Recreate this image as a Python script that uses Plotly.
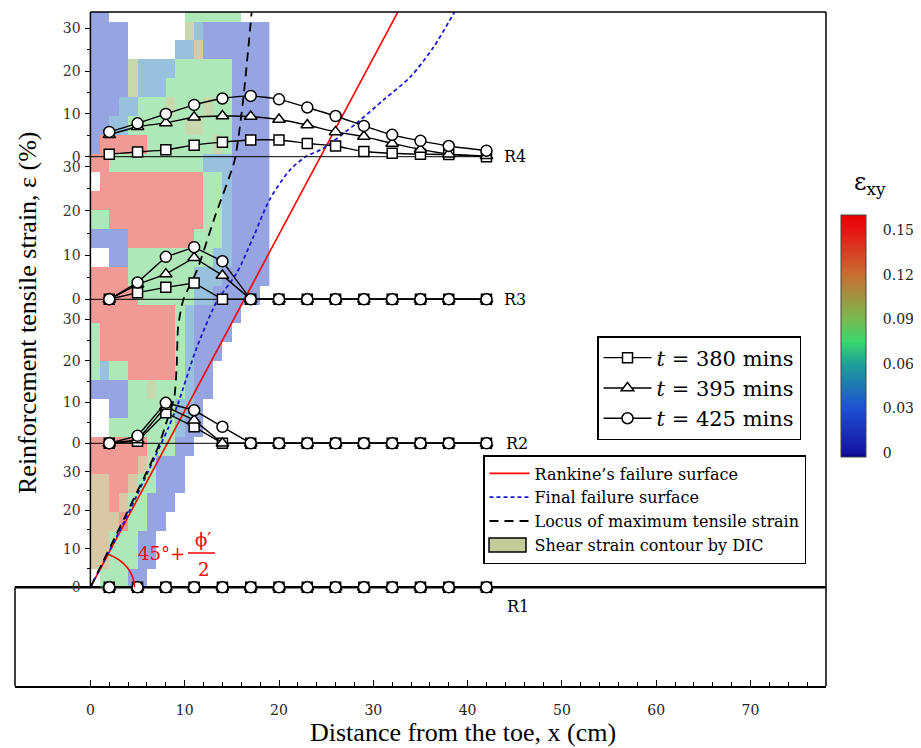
import numpy as np
import plotly.graph_objects as go

# ---------------- data ----------------
x_cm = [2, 5, 8, 11, 14, 17, 20, 23, 26, 29, 32, 35, 38, 42]

r1_380 = [0, 0, 0, 0, 0, 0, 0, 0, 0, 0, 0, 0, 0, 0]
r1_395 = [0, 0, 0, 0, 0, 0, 0, 0, 0, 0, 0, 0, 0, 0]
r1_425 = [0, 0, 0, 0, 0, 0, 0, 0, 0, 0, 0, 0, 0, 0]

r2_380 = [0, 0.5, 7.4, 4.0, 0, 0, 0, 0, 0, 0, 0, 0, 0, 0]
r2_395 = [0, 0.8, 8.9, 5.6, 0, 0, 0, 0, 0, 0, 0, 0, 0, 0]
r2_425 = [0, 1.8, 9.8, 8.0, 4.0, 0, 0, 0, 0, 0, 0, 0, 0, 0]

r3_380 = [0, 1.5, 2.7, 3.7, 0, 0, 0, 0, 0, 0, 0, 0, 0, 0]
r3_395 = [0, 3.4, 5.7, 9.4, 5.4, 0, 0, 0, 0, 0, 0, 0, 0, 0]
r3_425 = [0, 3.8, 9.6, 11.8, 8.6, 0, 0, 0, 0, 0, 0, 0, 0, 0]

r4_380 = [0.6, 1.1, 1.6, 2.7, 3.4, 3.9, 3.9, 3.1, 2.5, 1.2, 0.8, 0.6, 0.5, 0.0]
r4_395 = [5.1, 7.0, 7.9, 9.2, 9.5, 9.4, 8.7, 7.4, 5.8, 4.7, 3.1, 1.7, 0.6, 0.2]
r4_425 = [5.8, 7.8, 10.0, 12.1, 13.6, 14.2, 13.4, 11.5, 9.5, 7.2, 5.1, 3.7, 2.5, 1.4]

series_names = ["<i>t</i> = 380 mins", "<i>t</i> = 395 mins", "<i>t</i> = 425 mins"]
panel_labels = ["R1", "R2", "R3", "R4"]

# failure surfaces (distance from toe x [cm], height [cm])
rankine_x = [0, 32.6]
rankine_y = [0, 61.0]
final_x = [0, 3.7, 7.4, 8.3, 9.3, 11.2, 13.4, 15.5, 17.3, 19.0, 21.2, 22.9, 24.6, 28.2, 31.1, 33.9, 36.4, 38.6]
final_y = [0, 7.2, 15.0, 17.0, 19.5, 25.2, 30.3, 33.3, 37.2, 41.1, 44.3, 45.7, 46.5, 49.2, 51.7, 54.1, 57.3, 61.0]
locus_x = [0, 7.2, 7.9, 8.9, 9.15, 9.3, 9.85, 11.3, 13.2, 15.3, 16.2, 17.1]
locus_y = [0, 14.9, 17.0, 20.2, 23.4, 27.6, 30.5, 33.6, 39.3, 45.3, 51.7, 61.0]

# DIC shear strain contour, 1 cm (x) by 2 cm (height) cells, top row first
dic_levels = {"B": 0.02, "C": 0.045, "G": 0.08, "Y": 0.095, "T": 0.11, "R": 0.145}
dic_rows = [
    "BB        GGGGGG   ",
    "BBBB      YCBBBBBBB",
    "BBBB     CCTBBBBBBB",
    "BBBBYCCCCGGGGGGBBBB",
    "BBBBYCCCGGGGGGGBBBB",
    "BBBCCGGGYGGGYGGBBBB",
    "BBCCGGGGGGYYGGGBBBB",
    "BRRRRRGGGGGGGYGBBBB",
    "RRGGGGGGGGGGCCCBBBB",
    " RRRRRRRRRRRGGCBBBB",
    "RRRRRRRRRRRRGGCBBBB",
    "GGRRRRRRRRRRGGCBBBB",
    "BBBBRRRRRRRGGGCBBBB",
    "  BBGGGGGGGGGCCBBBB",
    "RRRRGGGGGGGCCCBBBBB",
    "RRRRRGGGGGGCCBBBBB ",
    "RRRRRRRRRGCBBBBB   ",
    "GRRRRRRRRGCBBBB    ",
    "GRRRRRRRRGCBBB     ",
    "GCGGRRRRRGCBB      ",
    "BBBBGGYGGGCBB      ",
    "  BBGGGGGCCB       ",
    "  GGGGGGGCBB       ",
    "RRRRRRGGGBB        ",
    "RRRRRTGBBB         ",
    "TTRRTGGBBB         ",
    "TTRTGGBBB          ",
    "TTTRGGBB           ",
    "TTGGGBB            ",
    "TTGGGBB            ",
    " GGGBB             ",
]
dic_x = [0.5 + i for i in range(19)]
dic_y = [61 - 2 * j for j in range(len(dic_rows))]
dic_z = [[dic_levels.get(ch, np.nan) for ch in row] for row in dic_rows]

cbar_vals = [0, 0.03, 0.06, 0.09, 0.12, 0.15]

# ---------------- layout helpers (pixel placement, screenshot coords) ----------------
OFF = 8                      # page body margin
W, H = 921 - OFF, 748 - OFF  # figure size
L, R, T, B = 15, 826, 12, 686  # plot-area edges in screenshot pixels


def pxx(px):
    return (px - L) / (R - L)


def pxy(py):
    return (B - py) / (B - T)


X0_PX, X_PPU = 90.4, 9.43
x_range = [(L - X0_PX) / X_PPU, (R - X0_PX) / X_PPU]
phys_range = [-(B - 587.3) / X_PPU, (587.3 - T) / X_PPU]


def panel_axis(zero_py, ppu, bot_py, top_py):
    return dict(
        domain=[pxy(bot_py), pxy(top_py)],
        range=[-(bot_py - zero_py) / ppu, (zero_py - top_py) / ppu],
        anchor="free", position=pxx(X0_PX), side="left",
        tickmode="array", tickvals=[0, 10, 20, 30],
        ticks="outside", ticklen=5, tickwidth=1, tickcolor="black",
        minor=dict(tickmode="array", tickvals=[5, 15, 25], ticks="outside",
                   ticklen=3, tickwidth=1, tickcolor="black"),
        showline=False, showgrid=False, zeroline=False,
        tickfont=dict(family="DejaVu Serif", size=14, color="#333"),
        ticklabelstandoff=2, fixedrange=True,
    )


panels = [
    ("y2", (587.3, 3.853, 686, 447), [r1_380, r1_395, r1_425]),
    ("y3", (443.3, 4.13, 462, 305), [r2_380, r2_395, r2_425]),
    ("y4", (299.3, 4.42, 318, 160), [r3_380, r3_395, r3_425]),
    ("y5", (156.7, 4.28, 175, 12), [r4_380, r4_395, r4_425]),
]

fig = go.Figure()

# colour scale (jet-like, as in the colour bar)
cs_vals = [-0.0027, 0.0, 0.03, 0.06, 0.075, 0.09, 0.12, 0.15, 0.1601]
cs_cols = ["rgb(0,0,130)", "rgb(20,20,160)", "rgb(30,80,210)", "rgb(30,160,150)",
           "rgb(60,215,110)", "rgb(120,185,80)", "rgb(200,110,50)", "rgb(230,20,20)", "rgb(235,0,0)"]
zmin, zmax = cs_vals[0], cs_vals[-1]
colorscale = [[(v - zmin) / (zmax - zmin), c] for v, c in zip(cs_vals, cs_cols)]

fig.add_trace(go.Heatmap(
    x=dic_x, y=dic_y, z=dic_z, zmin=zmin, zmax=zmax, colorscale=colorscale,
    opacity=0.46, xaxis="x", yaxis="y", hoverinfo="skip", showlegend=False,
    colorbar=dict(
        x=pxx(841), xanchor="left", xpad=0, y=pxy(215), yanchor="top", ypad=0,
        len=242, lenmode="pixels", thickness=25, thicknessmode="pixels",
        outlinewidth=1, outlinecolor="#444",
        tickmode="array", tickvals=cbar_vals, ticktext=[f"{v:g}" for v in cbar_vals],
        ticks="outside", ticklen=14, tickcolor="rgba(0,0,0,0)",
        tickfont=dict(family="DejaVu Serif", size=14, color="#222"),
    ),
))

fig.add_trace(go.Scatter(x=rankine_x, y=rankine_y, mode="lines", xaxis="x", yaxis="y",
                         line=dict(color="#ff0000", width=1.6),
                         name="Rankine’s failure surface", legend="legend2"))
fig.add_trace(go.Scatter(x=final_x, y=final_y, mode="lines", xaxis="x", yaxis="y",
                         line=dict(color="#1a1ad6", width=1.8, dash="4px,3px", shape="spline", smoothing=0.8),
                         name="Final failure surface", legend="legend2"))
fig.add_trace(go.Scatter(x=locus_x, y=locus_y, mode="lines", xaxis="x", yaxis="y",
                         line=dict(color="black", width=1.8, dash="9px,6px", shape="spline", smoothing=0.6),
                         name="Locus of maximum tensile strain", legend="legend2"))
fig.add_trace(go.Scatter(x=[None], y=[None], mode="lines",
                         line=dict(color="rgba(0,0,0,0)", width=1), xaxis="x", yaxis="y",
                         name="Shear strain contour by DIC", legend="legend2"))

symbols = ["square", "triangle-up", "circle"]
msizes = [10, 11, 11]
for axis, geo, vals in panels:
    is_top = axis == "y5"
    for s, v in enumerate(vals):
        fig.add_trace(go.Scatter(
            x=x_cm, y=v, mode="lines+markers", xaxis="x", yaxis=axis,
            line=dict(color="black", width=1.4, shape="spline" if is_top else "linear", smoothing=0.6),
            marker=dict(symbol=symbols[s], size=msizes[s], color="white",
                        line=dict(color="black", width=1.5)),
            name=series_names[s], legend="legend", legendgroup=series_names[s],
            showlegend=is_top, cliponaxis=False,
        ))

layout = dict(
    width=W, height=H,
    margin=dict(l=L - OFF, r=W + OFF - R, t=T - OFF, b=H + OFF - B, autoexpand=False),
    paper_bgcolor="white", plot_bgcolor="rgba(0,0,0,0)",
    xaxis=dict(domain=[0, 1], range=x_range, anchor="y",
               tickmode="array", tickvals=list(range(0, 80, 10)),
               ticks="inside", ticklen=6, tickwidth=1, tickcolor="black",
               minor=dict(tickmode="array", tickvals=list(range(0, 78, 2)), ticks="inside",
                          ticklen=4, tickwidth=1, tickcolor="black"),
               showline=True, linecolor="black", linewidth=2, mirror=False,
               showgrid=False, zeroline=False, fixedrange=True,
               tickfont=dict(family="DejaVu Serif", size=14, color="#222"),
               ticklabelstandoff=10),
    yaxis=dict(domain=[0, 1], range=phys_range, visible=False, fixedrange=True,
               showgrid=False, zeroline=False),
    showlegend=True,
    legend=dict(x=pxx(597), y=pxy(336), xanchor="left", yanchor="top",
                bgcolor="white", bordercolor="black", borderwidth=1.5,
                font=dict(family="DejaVu Serif", size=21, color="black"),
                tracegroupgap=0, itemwidth=48),
    legend2=dict(x=pxx(483), y=pxy(455), xanchor="left", yanchor="top",
                 bgcolor="rgba(0,0,0,0)", bordercolor="black", borderwidth=1.5,
                 font=dict(family="DejaVu Serif", size=16, color="black"),
                 itemwidth=40),
)
for axis, geo, vals in panels:
    layout["yaxis" + axis[1:]] = panel_axis(*geo)

frame = dict(color="black", width=1.5)
shapes = [
    dict(type="line", xref="x", yref="paper", x0=0, x1=x_range[1], y0=1, y1=1, line=frame),
    dict(type="line", xref="paper", yref="paper", x0=1, x1=1, y0=0, y1=1, line=frame),
    dict(type="line", xref="x", yref="y", x0=0, x1=0, y0=0, y1=phys_range[1], line=frame),
    dict(type="line", xref="paper", yref="y", x0=0, x1=0, y0=phys_range[0], y1=0, line=frame),
    dict(type="line", xref="paper", yref="y2", x0=0, x1=1, y0=0, y1=0,
         line=dict(color="black", width=2.5), layer="between"),
]
for axis in ["y3", "y4", "y5"]:
    shapes.append(dict(type="line", xref="x", yref=axis, x0=0, x1=42.6, y0=0, y1=0,
                       line=dict(color="black", width=1), layer="between"))

# legend key box for the DIC contour entry
shapes.append(dict(type="rect", xref="paper", yref="paper",
                   x0=pxx(489), x1=pxx(526), y0=pxy(552), y1=pxy(538),
                   fillcolor="#c3cc98", line=dict(color="black", width=1.5)))

# angle arc (45° + φ'/2)
t = np.radians(np.linspace(0, 66, 30))
arc_rx, arc_ry = 44 / X_PPU, 36 / X_PPU
path = "M " + " L ".join(f"{arc_rx*np.cos(a):.3f},{arc_ry*np.sin(a):.3f}" for a in t)
shapes.append(dict(type="path", xref="x", yref="y", path=path,
                   line=dict(color="#ff0000", width=1.6)))
shapes.append(dict(type="line", xref="x", yref="y",
                   x0=(188 - X0_PX) / X_PPU, x1=(215 - X0_PX) / X_PPU,
                   y0=(587.3 - 553) / X_PPU, y1=(587.3 - 553) / X_PPU,
                   line=dict(color="#ff0000", width=1.5)))
layout["shapes"] = shapes

red_font = dict(family="DejaVu Serif", size=18, color="#ff0000")
ann = [
    dict(text="45°+", xref="x", yref="y", x=(161.5 - X0_PX) / X_PPU, y=(587.3 - 553) / X_PPU,
         showarrow=False, font=red_font, xanchor="center", yanchor="middle"),
    dict(text="ϕ′", xref="x", yref="y", x=(203 - X0_PX) / X_PPU, y=(587.3 - 539) / X_PPU,
         showarrow=False, font=red_font, xanchor="center", yanchor="middle"),
    dict(text="2", xref="x", yref="y", x=(203 - X0_PX) / X_PPU, y=(587.3 - 569) / X_PPU,
         showarrow=False, font=red_font, xanchor="center", yanchor="middle"),
    dict(text="ε<sub>xy</sub>", xref="paper", yref="paper", x=pxx(870), y=pxy(183),
         showarrow=False, font=dict(family="DejaVu Serif", size=24, color="black"),
         xanchor="center", yanchor="middle"),
    dict(text="Reinforcement tensile strain, ε (%)", xref="paper", yref="paper",
         x=pxx(27), y=pxy(313), textangle=-90, showarrow=False,
         font=dict(family="Liberation Serif", size=26, color="black"),
         xanchor="center", yanchor="middle"),
    dict(text="Distance from the toe, x (cm)", xref="paper", yref="paper",
         x=pxx(463), y=pxy(733), showarrow=False,
         font=dict(family="Liberation Serif", size=26, color="black"),
         xanchor="center", yanchor="middle"),
]
label_pos = [("y2", 44.0, -5.0), ("y3", 43.9, 0), ("y4", 43.6, 0), ("y5", 43.7, 0)]
for lab, (axis, xx, yy) in zip(panel_labels, label_pos):
    ann.append(dict(text=lab, xref="x", yref=axis, x=xx, y=yy, showarrow=False,
                    xanchor="left", yanchor="middle",
                    font=dict(family="DejaVu Serif", size=16, color="black")))
layout["annotations"] = ann

fig.update_layout(**layout)
fig.write_html("out.html")
